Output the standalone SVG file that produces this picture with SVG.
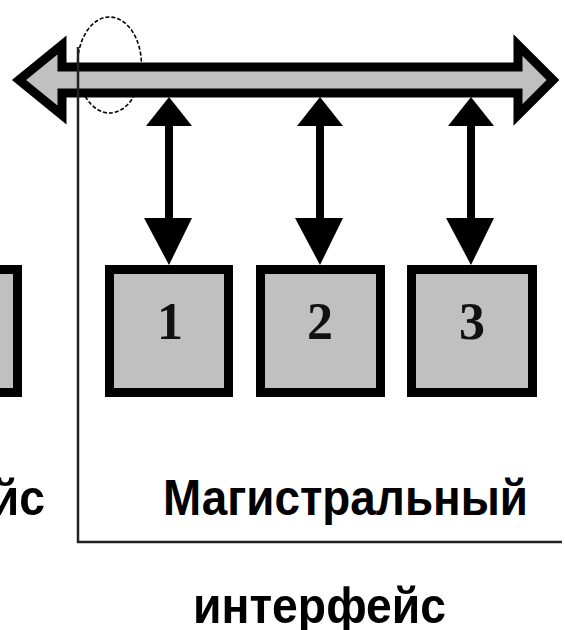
<svg xmlns="http://www.w3.org/2000/svg" width="565" height="630" viewBox="0 0 565 630">
  <defs>
    <style>
      .bus { fill: #c0c0c0; stroke: #000; stroke-width: 9; stroke-linejoin: miter; stroke-miterlimit: 10; }
      .box { fill: #c0c0c0; stroke: #000; stroke-width: 9; }
      .num { font-family: "Liberation Serif", "Times New Roman", serif; font-weight: bold; font-size: 52px; fill: #111; text-anchor: middle; }
      .lbl { font-family: "Liberation Sans", Arial, sans-serif; font-weight: bold; font-size: 50px; fill: #000; }
      .frame { fill: none; stroke: #222; stroke-width: 2.5; }
      .link { stroke: #000; stroke-width: 8; }
      .head { fill: #000; }
    </style>
  </defs>
  <rect width="565" height="630" fill="#fff"/>

  <!-- dashed ellipse marking the bus end (partly hidden by the bus) -->
  <g id="marker">
    <ellipse cx="109.5" cy="65" rx="32" ry="48" fill="none" stroke="#000" stroke-width="1.6" stroke-dasharray="4 2"/>
  </g>

  <!-- system bus: double-headed block arrow -->
  <g id="bus">
    <polygon class="bus" points="19,80 62,45 62,67 518,67 518,45 553,80 518,115 518,93 62,93 62,115"/>
  </g>

  <!-- frame lines bounding the bus interface -->
  <g id="frame">
    <polyline class="frame" points="78,47 78,542 562,542"/>
  </g>

  <!-- bidirectional links between the bus and the modules -->
  <g id="connectors">
    <g id="link1">
      <line class="link" x1="169" y1="124" x2="169" y2="220"/>
      <polygon class="head" points="169,97 146,126 192,126"/>
      <polygon class="head" points="169,265 144,218 192,218"/>
    </g>
    <g id="link2">
      <line class="link" x1="320" y1="124" x2="320" y2="220"/>
      <polygon class="head" points="320,97 297,126 343,126"/>
      <polygon class="head" points="320,265 295,218 343,218"/>
    </g>
    <g id="link3">
      <line class="link" x1="471" y1="124" x2="471" y2="220"/>
      <polygon class="head" points="471,97 448,126 494,126"/>
      <polygon class="head" points="471,265 446,218 494,218"/>
    </g>
  </g>

  <!-- modules -->
  <g id="module0">
    <rect class="box" x="-100" y="269.5" width="117.5" height="123"/>
  </g>
  <g id="module1">
    <rect class="box" x="109.5" y="269.5" width="119" height="123"/>
    <text class="num" x="170" y="339">1</text>
  </g>
  <g id="module2">
    <rect class="box" x="260.5" y="269.5" width="120" height="123"/>
    <text class="num" x="320" y="339">2</text>
  </g>
  <g id="module3">
    <rect class="box" x="411.5" y="269.5" width="121" height="123"/>
    <text class="num" x="472" y="339">3</text>
  </g>

  <!-- labels -->
  <g id="labels">
    <text class="lbl" x="-208" y="515" textLength="253" lengthAdjust="spacingAndGlyphs">интерфейс</text>
    <text class="lbl" x="163" y="515" textLength="365" lengthAdjust="spacingAndGlyphs">Магистральный</text>
    <text class="lbl" x="193" y="623" textLength="253" lengthAdjust="spacingAndGlyphs">интерфейс</text>
  </g>
</svg>
